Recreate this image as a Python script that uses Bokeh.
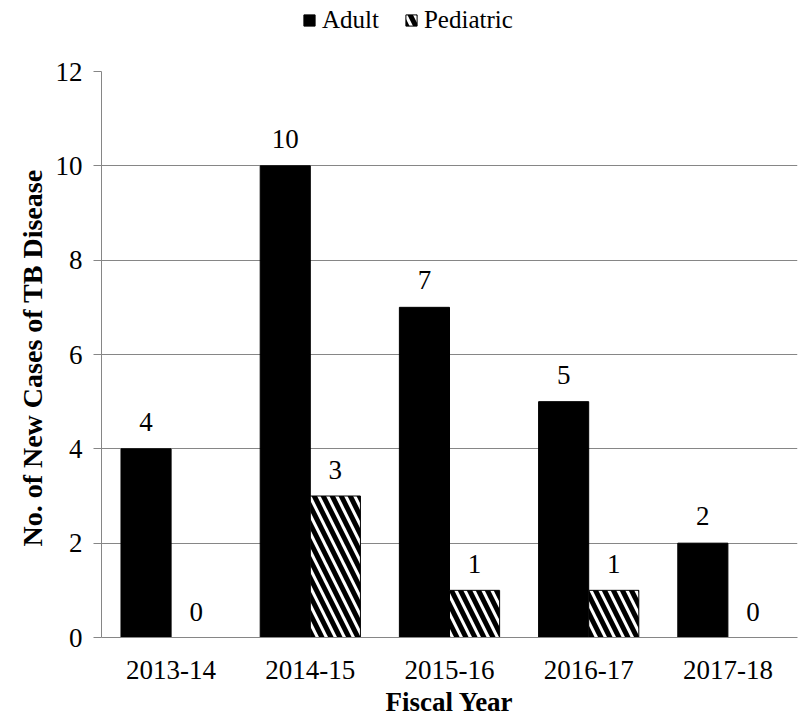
from bokeh.plotting import figure
from bokeh.layouts import column
from bokeh.models import ColumnDataSource, Legend, LegendItem, FactorRange, Range1d, FixedTicker
from bokeh.transform import dodge
from bokeh.core.properties import value
from bokeh.embed import file_html
from bokeh.resources import INLINE

years = ["2013-14", "2014-15", "2015-16", "2016-17", "2017-18"]
adult = [4, 10, 7, 5, 2]
pediatric = [0, 3, 1, 1, 0]
y_ticks = [0, 2, 4, 6, 8, 10, 12]

FONT = "Liberation Serif"
FS = "27px"
GRAY = "#868686"
LEG_H = 40

adult_style = dict(fill_color="black", line_color="black")
ped_style = dict(fill_color="white", line_color="black", line_width=1,
                 hatch_pattern="\\", hatch_color="black", hatch_scale=18, hatch_weight=5)

src = ColumnDataSource(dict(
    year=years, adult=adult, pediatric=pediatric,
    adult_lbl=[str(v) for v in adult], ped_lbl=[str(v) for v in pediatric],
))

p = figure(x_range=FactorRange(factors=years, range_padding=0), y_range=Range1d(0, 12),
           width=800, height=719 - LEG_H, output_backend="svg", toolbar_location=None,
           min_border_left=101, min_border_right=3, min_border_top=71 - LEG_H,
           min_border_bottom=82)
p.outline_line_color = None
p.background_fill_color = "white"

p.vbar(x=dodge("year", -0.18, range=p.x_range), top="adult", width=0.36, source=src,
       **adult_style)
p.vbar(x=dodge("year", 0.18, range=p.x_range), top="pediatric", width=0.36, source=src,
       **ped_style)

p.text(x=dodge("year", -0.18, range=p.x_range), y="adult", text="adult_lbl", source=src,
       text_font=value(FONT), text_font_size=FS, text_align="center",
       text_baseline="alphabetic", y_offset=-27, text_color="black")
p.text(x=dodge("year", 0.18, range=p.x_range), y="pediatric", text="ped_lbl", source=src,
       text_font=value(FONT), text_font_size=FS, text_align="center",
       text_baseline="alphabetic", y_offset=-26, text_color="black")

p.xgrid.grid_line_color = None
p.ygrid.grid_line_color = GRAY
p.ygrid.ticker = FixedTicker(ticks=y_ticks)

p.yaxis.ticker = FixedTicker(ticks=y_ticks)
p.yaxis.minor_tick_line_color = None
p.yaxis.major_tick_in = 0
p.yaxis.major_tick_out = 8
p.yaxis.major_tick_line_color = GRAY
p.yaxis.axis_line_color = GRAY
p.yaxis.major_label_standoff = 11
p.yaxis.axis_label = "No. of  New Cases of TB Disease"
p.yaxis.axis_label_standoff = 5

p.xaxis.major_tick_line_color = None
p.xaxis.minor_tick_line_color = None
p.xaxis.axis_line_color = GRAY
p.xaxis.major_label_standoff = 17
p.xaxis.axis_label = "Fiscal Year"
p.xaxis.axis_label_standoff = 5

for ax in (p.xaxis[0], p.yaxis[0]):
    ax.major_label_text_font = FONT
    ax.major_label_text_font_size = FS
    ax.major_label_text_color = "black"
    ax.axis_label_text_font = FONT
    ax.axis_label_text_font_size = FS
    ax.axis_label_text_font_style = "bold"
    ax.axis_label_text_color = "black"
p.yaxis.axis_label_text_font_size = "28px"

# legend strip above the chart
lf = figure(width=800, height=LEG_H, x_range=Range1d(0, 1), y_range=Range1d(0, 1),
            output_backend="svg", toolbar_location=None, x_axis_type=None, y_axis_type=None,
            min_border=0, min_border_left=0, min_border_right=0, min_border_top=0,
            min_border_bottom=0)
lf.outline_line_color = None
lf.xgrid.visible = False
lf.ygrid.visible = False
offscreen = ColumnDataSource(dict(x=[-5], top=[-5], bottom=[-10]))
la = lf.vbar(x="x", top="top", bottom="bottom", width=0.1, source=offscreen, **adult_style)
lp = lf.vbar(x="x", top="top", bottom="bottom", width=0.1, source=offscreen, **ped_style)
legend = Legend(items=[LegendItem(label="Adult", renderers=[la]),
                       LegendItem(label="Pediatric", renderers=[lp])],
                orientation="horizontal", location=(201, 6),
                glyph_width=14, glyph_height=14, label_standoff=6, spacing=25,
                padding=0, margin=0, border_line_color=None, background_fill_alpha=0,
                label_text_font=FONT, label_text_font_size="25px", label_text_color="black")
lf.add_layout(legend, "center")

layout = column(lf, p, spacing=0)
open("out.html", "w").write(file_html(layout, INLINE))
